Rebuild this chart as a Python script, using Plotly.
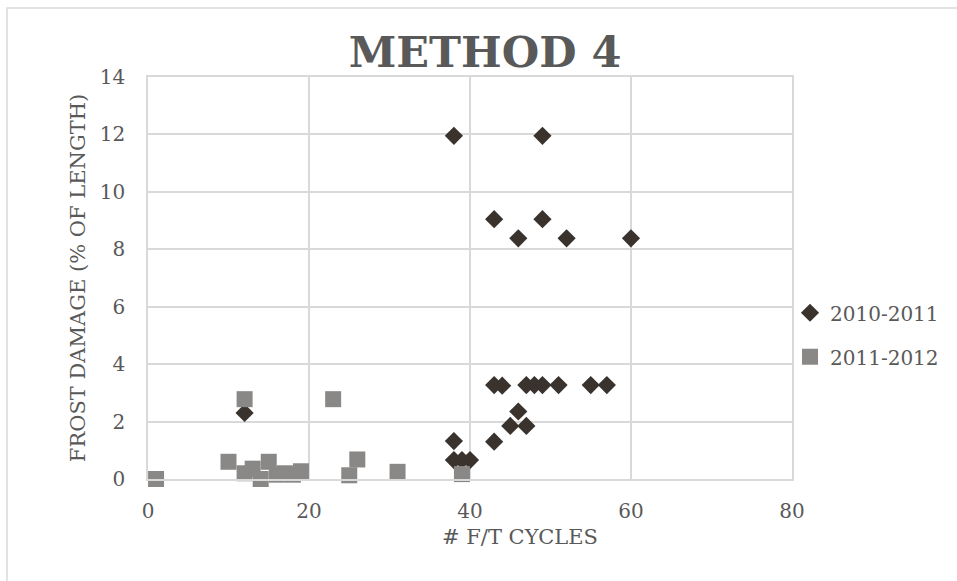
import plotly.graph_objects as go

# Freeze/thaw cycles vs. frost damage, two winters
cycles_2010_2011 = [12, 38, 49, 43, 49, 46, 52, 60,
                    43, 44, 47, 48, 49, 51, 55, 57,
                    46, 45, 47, 43, 38, 38, 39, 40]
damage_2010_2011 = [2.3, 11.95, 11.95, 9.05, 9.05, 8.38, 8.38, 8.38,
                    3.27, 3.25, 3.27, 3.27, 3.27, 3.27, 3.27, 3.27,
                    2.35, 1.85, 1.85, 1.3, 1.32, 0.66, 0.66, 0.66]

cycles_2011_2012 = [1, 10, 12, 12, 13, 14, 15, 16, 17, 18, 19, 23, 25, 26, 31, 39]
damage_2011_2012 = [0.0, 0.6, 2.78, 0.2, 0.36, 0.0, 0.6, 0.15, 0.2, 0.15, 0.27,
                    2.78, 0.13, 0.68, 0.25, 0.17]

x_ticks = [0, 20, 40, 60, 80]
y_ticks = [0, 2, 4, 6, 8, 10, 12, 14]

SERIF = "Georgia, 'DejaVu Serif', serif"
TEXT = "#595959"
GRID = "#d9d9d9"

# plot-area geometry in pixels
L, R, T, B = 148, 792, 76.5, 479
PW, PH = R - L, B - T

fig = go.Figure()
fig.add_trace(go.Scatter(
    x=cycles_2010_2011, y=damage_2010_2011, mode="markers", name="2010-2011",
    legendgroup="a", cliponaxis=False,
    marker=dict(symbol="diamond", size=14, color="#3a332d", line=dict(width=0)),
))
fig.add_trace(go.Scatter(
    x=cycles_2011_2012, y=damage_2011_2012, mode="markers", name="2011-2012",
    legendgroup="b", cliponaxis=False,
    marker=dict(symbol="square", size=16, color="#8a8886", line=dict(width=0)),
))

fig.update_layout(
    width=957, height=581,
    margin=dict(l=L, r=957 - R, t=T, b=581 - B, autoexpand=False),
    paper_bgcolor="white", plot_bgcolor="white",
    font=dict(family=SERIF, color=TEXT, size=18),
    title=dict(text="<b>METHOD 4</b>", x=485 / 957, xanchor="center",
               y=1 - 52 / 581, yanchor="middle",
               font=dict(family=SERIF, size=43, color=TEXT)),
    legend=dict(x=(790 - L) / PW, xanchor="left", y=(B - 293) / PH, yanchor="top",
                traceorder="grouped", tracegroupgap=15, itemwidth=30,
                font=dict(family=SERIF, size=20, color=TEXT),
                bgcolor="rgba(0,0,0,0)"),
    showlegend=True,
    xaxis=dict(range=[0, 80], tickvals=x_ticks, showgrid=True, gridcolor=GRID,
               gridwidth=1.5, zeroline=False, showline=True, mirror=True,
               linecolor=GRID, linewidth=1.5,
               ticks="outside", ticklen=13, tickcolor="rgba(0,0,0,0)",
               tickfont=dict(family=SERIF, size=20, color=TEXT)),
    yaxis=dict(range=[0, 14], tickvals=y_ticks, showgrid=True, gridcolor=GRID,
               gridwidth=1.5, zeroline=False, showline=True, mirror=True,
               linecolor=GRID, linewidth=1.5,
               ticks="outside", ticklen=17, tickcolor="rgba(0,0,0,0)",
               tickfont=dict(family=SERIF, size=20, color=TEXT),
               title=dict(text="FROST DAMAGE (% OF LENGTH)", standoff=8,
                          font=dict(family=SERIF, size=21, color=TEXT))),
    annotations=[dict(text="# F/T CYCLES", xref="paper", yref="paper",
                      x=(520 - L) / PW, y=(B - 537) / PH,
                      xanchor="center", yanchor="middle", showarrow=False,
                      font=dict(family=SERIF, size=21, color=TEXT))],
    shapes=[dict(type="rect", xref="paper", yref="paper",
                 x0=(7 - L) / PW, x1=(962 - L) / PW,
                 y0=(B - 590) / PH, y1=(B - 7.5) / PH,
                 line=dict(color=GRID, width=1.5), layer="below")],
)

fig.write_html("out.html")
